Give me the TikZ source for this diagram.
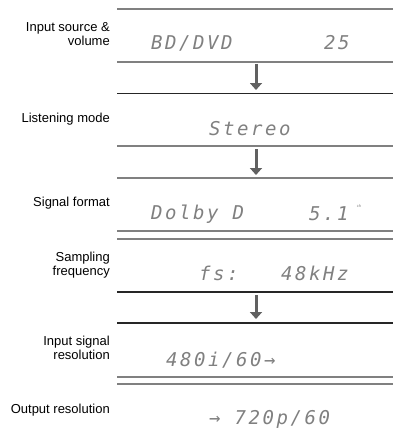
\documentclass[tikz,border=0pt]{standalone}
\usepackage{fontspec}
\setmainfont{Liberation Sans}
\newfontfamily\lcdfont[LetterSpace=13.5]{DejaVu Sans Mono}
\usetikzlibrary{arrows.meta}

\begin{document}
\begin{tikzpicture}[x=1pt, y=-1pt,
    lbl/.style={inner sep=0pt, align=right, font=\fontsize{13}{14}\selectfont},
    lcd/.style={inner sep=0pt, anchor=base west, text=black!50,
                font=\lcdfont\itshape\fontsize{19}{19}\selectfont},
    rulelt/.style={draw=black!50, line width=1.1pt},
    ruledk/.style={draw=black!85, line width=1.2pt},
    flow/.style={draw=black!62, line width=3pt,
                 -{Triangle[width=12pt, length=7pt]}}]
    \useasboundingbox (0,0) rectangle (393,436);
    \def\xl{117}
    \def\xr{393}
    % captions on the left
    \node[lbl, anchor=east] (insrc) at (110,34.5) {Input source \&\\volume};
    \node[lbl, anchor=base east] (lsmode) at (110,122) {Listening mode};
    \node[lbl, anchor=base east] (sigfmt) at (110,206) {Signal format};
    \node[lbl, anchor=east] (sampfq) at (110,265.5) {Sampling\\frequency};
    \node[lbl, anchor=east] (inres) at (110,348) {Input signal\\resolution};
    \node[lbl, anchor=base east] (outres) at (110,413) {Output resolution};
    % display readouts
    \node[lcd] (dsrc) at (151,50) {BD/DVD};
    \node[lcd] (dvol) at (324,50) {25};
    \node[lcd] (dmode) at (209,135) {Stereo};
    \node[lcd] (dfmt) at (151,219.5) {Dolby D};
    \node[lcd] (dch) at (309,220) {5.1};
    \node[inner sep=0pt, text=black!50, font=\fontsize{4}{4}\selectfont] (dchs) at (359,206) {ch};
    \node[lcd] (dfs) at (199,280.5) {fs:};
    \node[lcd] (dfreq) at (281,280.5) {48kHz};
    \node[lcd] (dinres) at (166,366) {480i/60→};
    \node[lcd] (doutres) at (209,424) {→ 720p/60};
    % rules
    \draw[rulelt] (\xl,9) -- (\xr,9);
    \draw[rulelt] (\xl,62) -- (\xr,62);
    \draw[ruledk] (\xl,93.5) -- (\xr,93.5);
    \draw[rulelt] (\xl,146) -- (\xr,146);
    \draw[rulelt] (\xl,178) -- (\xr,178);
    \draw[rulelt] (\xl,231) -- (\xr,231);
    \draw[rulelt] (\xl,239) -- (\xr,239);
    \draw[ruledk] (\xl,292) -- (\xr,292);
    \draw[ruledk] (\xl,323) -- (\xr,323);
    \draw[rulelt] (\xl,377) -- (\xr,377);
    \draw[rulelt] (\xl,384) -- (\xr,384);
    % down arrows between the rules
    \coordinate (a1) at (256,64);  \coordinate (b1) at (256,90);
    \coordinate (a2) at (256,149); \coordinate (b2) at (256,175);
    \coordinate (a3) at (256,295); \coordinate (b3) at (256,319);
    \draw[flow] (a1) -- (b1);
    \draw[flow] (a2) -- (b2);
    \draw[flow] (a3) -- (b3);
\end{tikzpicture}
\end{document}
